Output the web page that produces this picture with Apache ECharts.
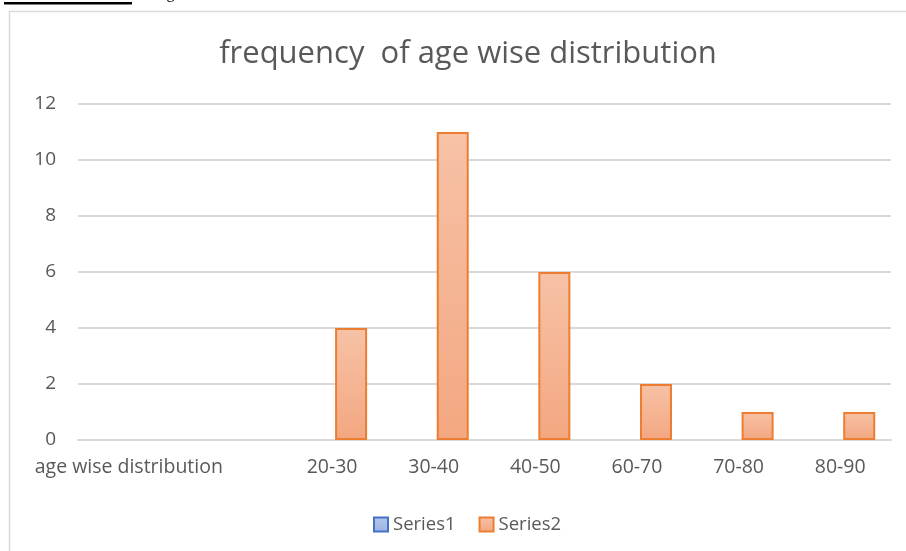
<!DOCTYPE html>
<html>
<head>
<meta charset="utf-8">
<script src="https://cdn.jsdelivr.net/npm/echarts@6/dist/echarts.min.js"></script>
<style>
  html, body { margin: 0; padding: 0; background: #fff; }
  #chart { width: 906px; height: 551px; }
</style>
</head>
<body>
<div id="chart"></div>
<script>
// Age bands (the first two slots hold the axis caption and a blank slot)
const categories = ['age wise distribution', '', '20-30', '30-40', '40-50', '60-70', '70-80', '80-90'];
// Series1 carries no values; Series2 holds the counts per age band
const series1 = [null, null, null, null, null, null, null, null];
const series2 = [null, null, 4, 11, 6, 2, 1, 1];
const yTicks = { min: 0, max: 12, interval: 2 };

const FONT = '"Open Sans", sans-serif';
const TEXT = '#595959';

const chart = echarts.init(document.getElementById('chart'), null, { renderer: 'canvas' });

chart.setOption({
  animation: false,
  backgroundColor: '#ffffff',
  title: {
    text: 'frequency  of age wise distribution',
    left: 463,
    textAlign: 'center',
    top: 34,
    textStyle: { fontFamily: FONT, fontSize: 31, fontWeight: 'normal', color: TEXT }
  },
  legend: {
    data: ['Series1', 'Series2'],
    icon: 'rect',
    left: 368,
    top: 510,
    itemWidth: 14,
    itemHeight: 14,
    itemGap: 23,
    textStyle: { fontFamily: FONT, fontSize: 18.5, color: TEXT }
  },
  grid: { left: 78, right: 15, top: 104, bottom: 111, containLabel: false },
  xAxis: {
    type: 'category',
    data: categories,
    axisLine: { lineStyle: { color: '#d9d9d9', width: 2 } },
    axisTick: { show: false },
    axisLabel: { fontFamily: FONT, fontSize: 19.5, color: TEXT, margin: 17, interval: 0 }
  },
  yAxis: {
    type: 'value',
    min: yTicks.min,
    max: yTicks.max,
    interval: yTicks.interval,
    axisLine: { show: false },
    axisTick: { show: false },
    splitLine: { lineStyle: { color: '#d9d9d9', width: 2 } },
    axisLabel: { fontFamily: FONT, fontSize: 19, color: TEXT, margin: 22 }
  },
  series: [
    {
      name: 'Series1',
      type: 'bar',
      data: series1,
      barWidth: 32,
      barGap: '19%',
      itemStyle: {
        color: new echarts.graphic.LinearGradient(0, 0, 0, 1, [
          { offset: 0, color: '#b4c6ea' }, { offset: 1, color: '#9db3e2' }
        ]),
        borderColor: '#4472c4',
        borderWidth: 2
      }
    },
    {
      name: 'Series2',
      type: 'bar',
      data: series2,
      barWidth: 32,
      barGap: '19%',
      itemStyle: {
        color: new echarts.graphic.LinearGradient(0, 0, 0, 1, [
          { offset: 0, color: '#f7c2a6' }, { offset: 1, color: '#f3a781' }
        ]),
        borderColor: '#ed7d31',
        borderWidth: 2
      }
    }
  ],
  graphic: [
    // chart area frame, running past the right and bottom edges
    {
      type: 'rect',
      shape: { x: 9.5, y: 11.5, width: 920, height: 560 },
      style: { fill: null, stroke: '#d9d9d9', lineWidth: 1.5 },
      silent: true, z: -10
    },
    // underlined heading fragment above the chart
    {
      type: 'rect',
      shape: { x: 4, y: 2, width: 128, height: 2.5 },
      style: { fill: '#000000' },
      silent: true
    },
    {
      type: 'text',
      left: 155, top: -14,
      style: { text: 'Age', font: '16px "Liberation Serif", serif', fill: '#000000' },
      silent: true
    }
  ]
});
</script>
</body>
</html>
